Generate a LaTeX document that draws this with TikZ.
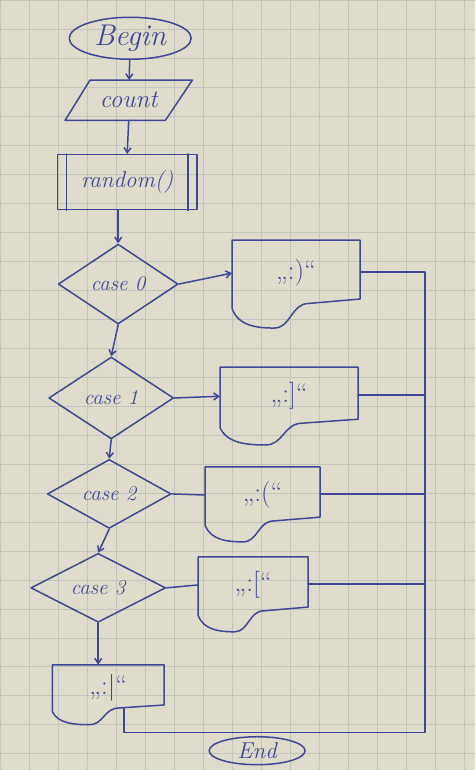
\documentclass[tikz,border=0pt]{standalone}
\usepackage{fontspec}
\usetikzlibrary{shapes.geometric,arrows.meta,calc}
\definecolor{ink}{RGB}{62,72,150}
\definecolor{paper}{RGB}{224,220,203}
\definecolor{gridc}{RGB}{196,196,190}
\tikzset{
  pen/.style={draw=ink, line width=1.5pt, line cap=round, line join=round},
  arr/.style={-{Straight Barb[length=5pt,width=7pt]}},
  txt/.style={text=ink, inner sep=0pt, font=\itshape\fontsize{25}{25}\selectfont},
  term/.style={pen, ellipse, text=ink, inner sep=0pt},
  decide/.style={pen, diamond, aspect=1, text=ink, inner sep=0pt, font=\itshape\fontsize{21}{21}\selectfont},
  outtxt/.style={text=ink, inner sep=0pt, font=\fontsize{27}{27}\selectfont}
}
\newcommand\docbox[6]{%
  \node[outtxt, minimum width=#4pt, minimum height=0.75*#5pt] (#1) at (#2+#4/2, #3+0.375*#5) {#6};
  \begin{scope}[shift={(#2,#3)}, x=#4pt, y=-#5pt]
    \draw[pen] (0,0) -- (0,0.78) .. controls (0.05,0.98) and (0.2,1) .. (0.33,1)
      .. controls (0.46,1) and (0.46,0.72) .. (0.6,0.72) -- (1,0.67) -- (1,0) -- cycle;
    \coordinate (#1-b) at (0.64,0.715);
    \coordinate (#1-r) at (1,0.36);
  \end{scope}}
\begin{document}
\begin{tikzpicture}[x=1pt,y=-1pt]
\fill[paper] (0,0) rectangle (475,770);
\draw[gridc, line width=0.6pt, step=29pt] (0,0) grid (475,770);
\useasboundingbox (0,0) rectangle (475,770);

% start
\node[term, minimum width=122pt, minimum height=42pt, font=\itshape\fontsize{30}{30}\selectfont] (begin) at (130,38) {Begin};

% input
\node[txt, minimum width=127pt, minimum height=40pt] (count) at (128.5,100) {count};
\draw[pen] ([xshift=25pt]count.north west) -- (count.north east) -- ([xshift=-27pt]count.south east) -- (count.south west) -- cycle;

% predefined process
\node[pen, txt, minimum width=140pt, minimum height=55pt, font=\itshape\fontsize{23}{23}\selectfont] (rand) at (127,182) {random()};
\draw[pen] ([xshift=10pt]rand.north west) -- ([xshift=10pt]rand.south west);
\draw[pen] ([xshift=-10pt]rand.north east) -- ([xshift=-10pt]rand.south east);

% decisions
\node[decide, minimum width=120pt, minimum height=80pt] (d0) at (118,284) {case 0};
\node[decide, minimum width=125pt, minimum height=82pt] (d1) at (111,398) {case 1};
\node[decide, minimum width=124pt, minimum height=56pt] (d2) at (109,494) {case 2};
\node[decide, minimum width=135pt, minimum height=66pt] (d3) at (98,588) {case 3};

% outputs
\docbox{o0}{232}{240}{128}{88}{„:)“}
\docbox{o1}{220}{367}{138}{78}{„:]“}
\docbox{o2}{205}{467}{115}{75}{„:(“}
\docbox{o3}{198}{557}{110}{75}{„:[“}
\docbox{o4}{52}{665}{112}{60}{„:|“}

% end
\node[term, minimum width=96pt, minimum height=28pt, font=\itshape\fontsize{23}{23}\selectfont] (end) at (257,751) {End};

% flow
\draw[pen, arr] (begin) -- (count);
\draw[pen, arr] (count.south) -- (rand.north);
\draw[pen, arr] (d0.north |- rand.south) -- (d0.north);
\draw[pen, arr] (d0.south) -- (d1.north);
\draw[pen, arr] (d1.south) -- (d2.north);
\draw[pen, arr] (d2.south) -- (d3.north);
\draw[pen, arr] (d3.south) -- (d3.south |- o4.north);

\draw[pen, arr] (d0.east) -- (o0.west);
\draw[pen, arr] (d1.east) -- (o1.west);
\draw[pen] (d2.east) -- (o2.west);
\draw[pen] (d3.east) -- (o3.west);

% collecting line
\coordinate (trunk) at (425,265);
\coordinate (corner) at (425,733);
\draw[pen] (o0-r) -- (o0-r -| trunk) -- (corner) -- (corner -| o4-b) -- (o4-b);
\draw[pen] (o1-r) -- (o1-r -| trunk);
\draw[pen] (o2-r) -- (o2-r -| trunk);
\draw[pen] (o3-r) -- (o3-r -| trunk);
\end{tikzpicture}
\end{document}
